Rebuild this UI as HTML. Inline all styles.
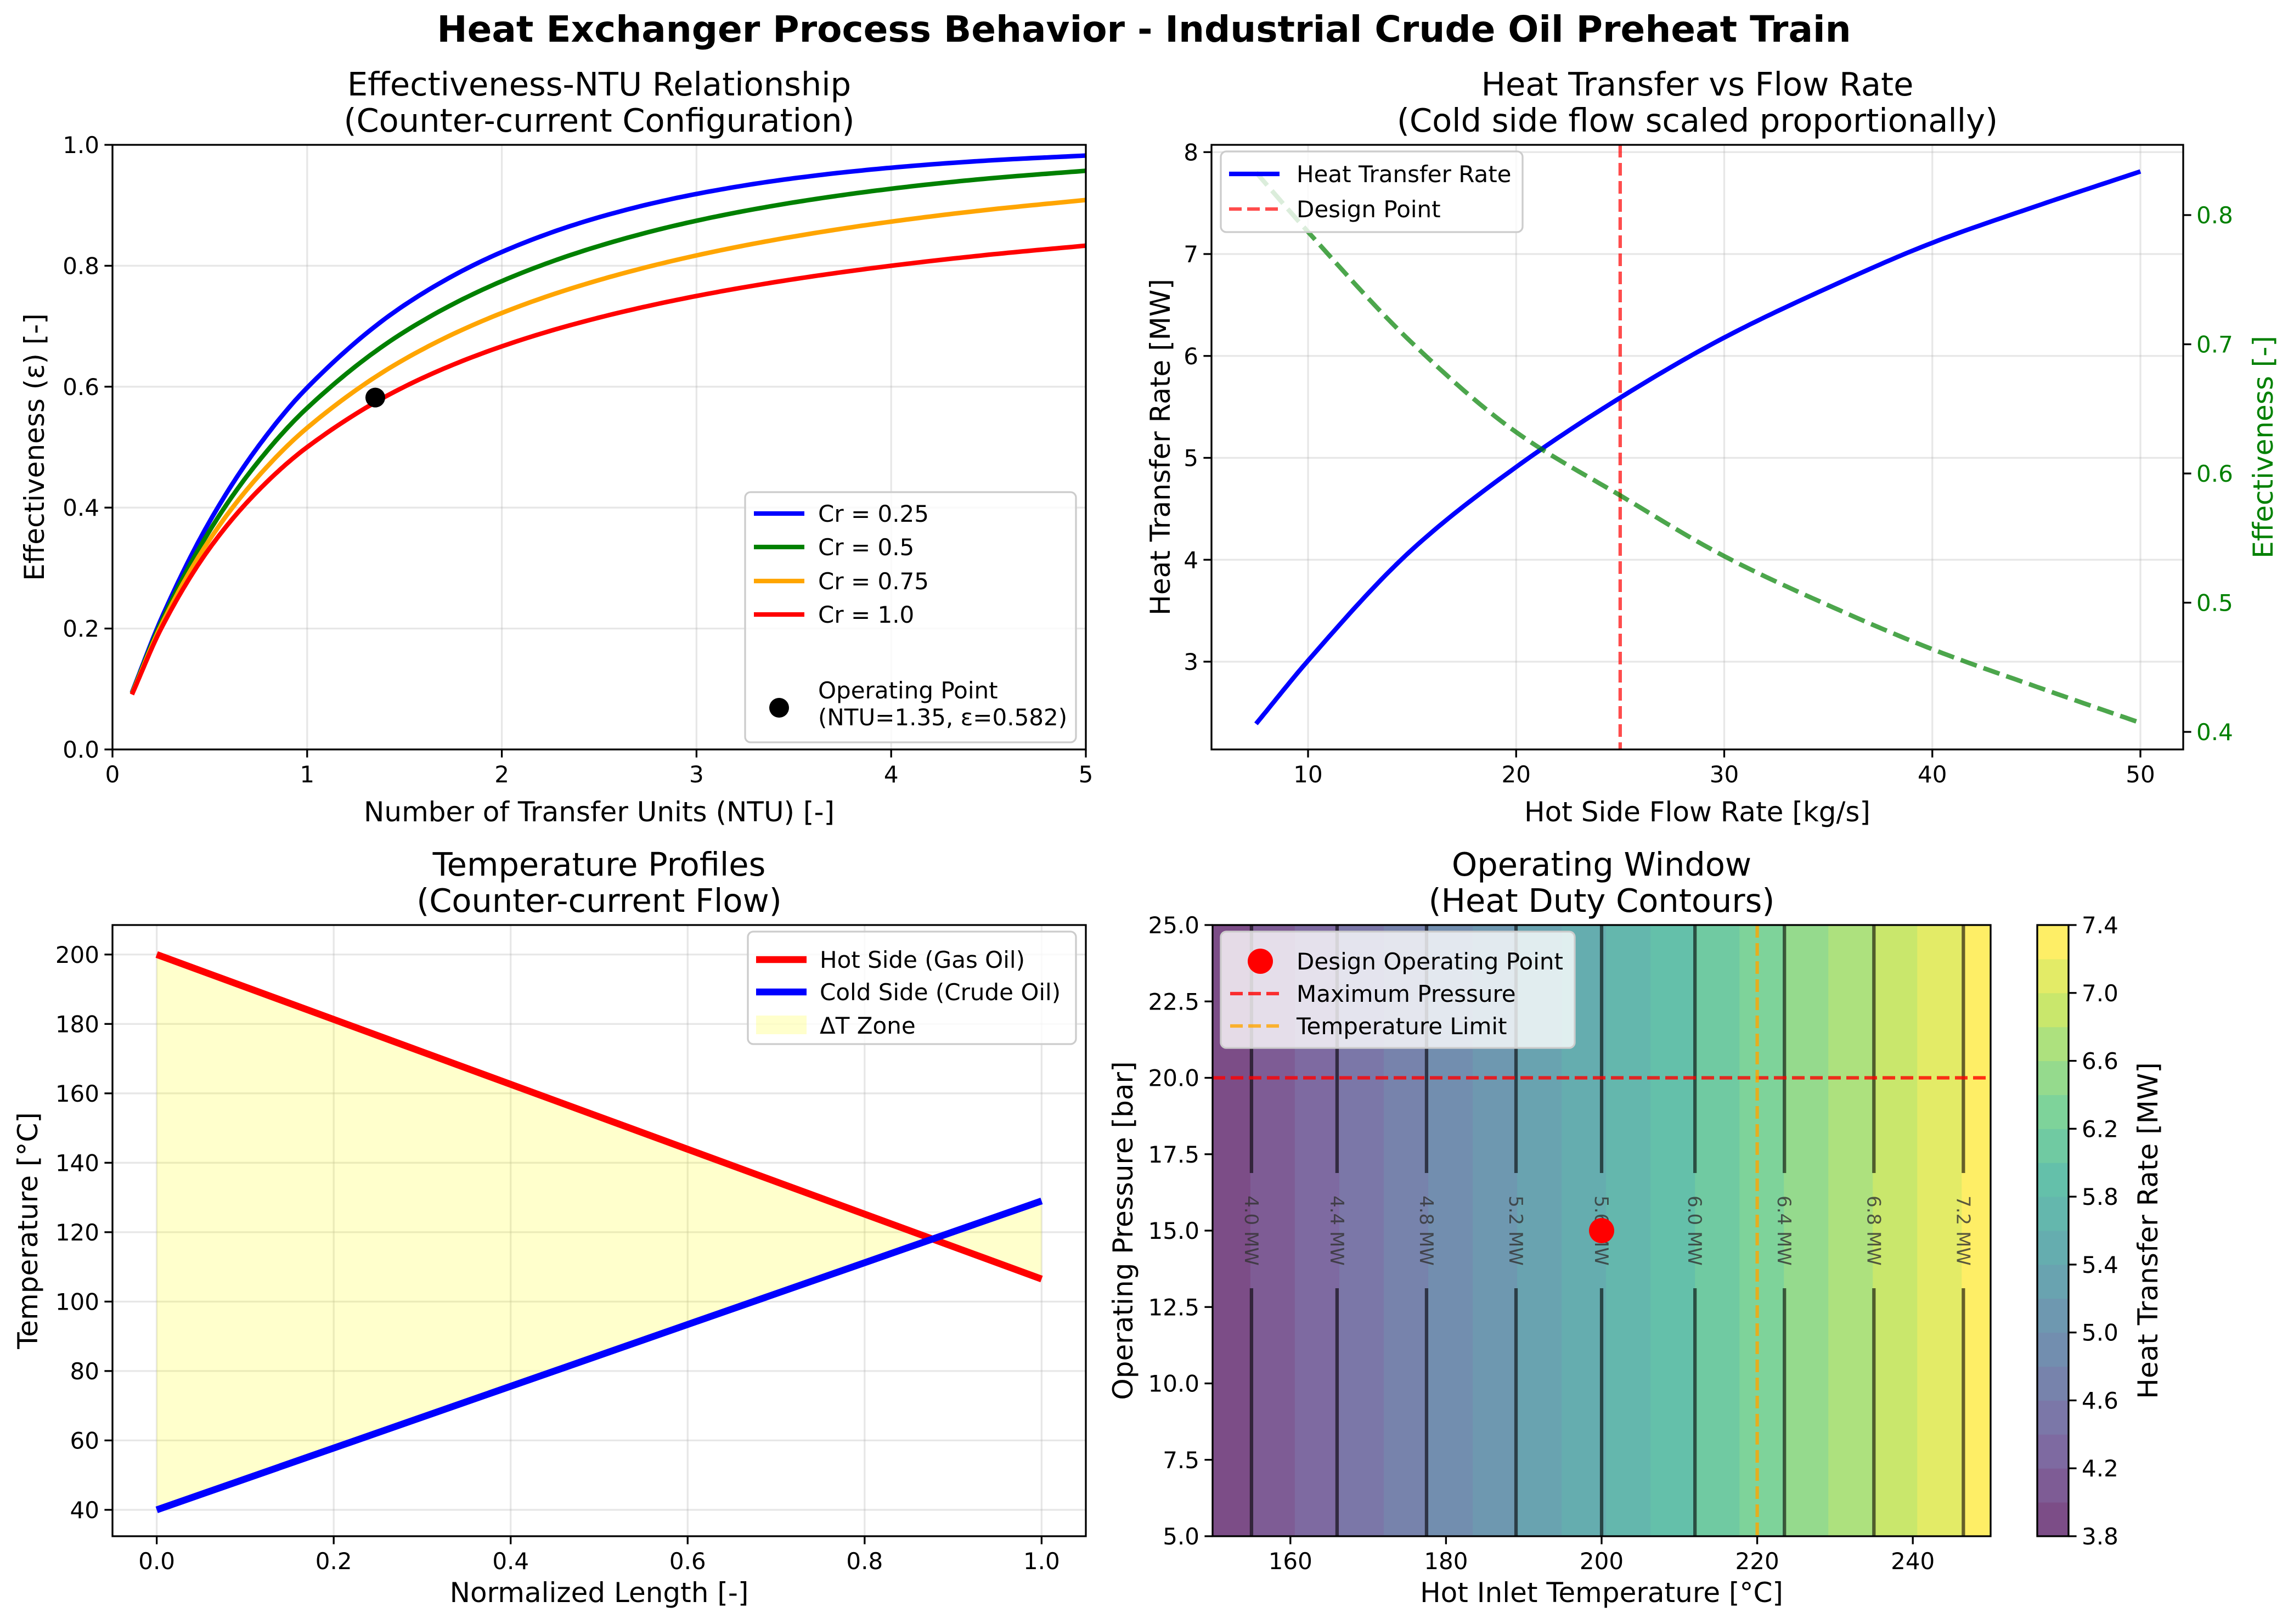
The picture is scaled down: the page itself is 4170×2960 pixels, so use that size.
<!DOCTYPE html>
<html><head><meta charset="utf-8"><style>
html,body{margin:0;padding:0;background:#fff}
svg text{font-family:"DejaVu Sans","Liberation Sans",sans-serif}
</style></head><body>
<svg id="fig" xmlns="http://www.w3.org/2000/svg" width="4170" height="2955" viewBox="0 0 4170 2955">
<rect width="4170" height="2955" fill="#fff"/>
<text x="2085" y="76" text-anchor="middle" font-size="66" font-weight="bold">Heat Exchanger Process Behavior - Industrial Crude Oil Preheat Train</text>
</svg>
<script>
// ---- Panel 1 data
const ntu = [0.1,0.25,0.5,0.75,1,1.5,2,2.5,3,3.5,4,4.5,5];
const eps025 = [0.0941,0.2157,0.3776,0.5017,0.5983,0.735,0.8228,0.8803,0.9188,0.9447,0.9622,0.9741,0.9823];
const eps05 = [0.0931,0.2103,0.3623,0.4764,0.5647,0.6908,0.7746,0.8328,0.8745,0.9048,0.9274,0.9444,0.9571];
const eps075 = [0.092,0.2051,0.3475,0.452,0.5319,0.6454,0.7219,0.7764,0.8171,0.8484,0.873,0.8927,0.9088];
const eps10 = [0.0909,0.2,0.3333,0.4286,0.5,0.6,0.6667,0.7143,0.75,0.7778,0.8,0.8182,0.8333];
const opPoint = [1.35,0.582];
const p1XTicks = [0,1,2,3,4,5];
const p1YTicks = [0,0.2,0.4,0.6,0.8,1.0];
// ---- Panel 2 data
const flow = [7.5,10,15,20,25,30,35,40,45,50];
const heatRate = [2.39,3.01,4.1,4.91,5.59,6.18,6.67,7.11,7.47,7.81];
const effFlow = [0.833,0.787,0.701,0.632,0.583,0.536,0.498,0.464,0.435,0.407];
const designFlow = 25;
const p2XTicks = [10,20,30,40,50];
const p2YTicks = [3,4,5,6,7,8];
const p2Y2Ticks = [0.4,0.5,0.6,0.7,0.8];
// ---- Panel 3 data
const lengthPos = [0,1];
const hotTemp = [200,106.5];
const coldTemp = [40,129];
const p3XTicks = [0,0.2,0.4,0.6,0.8,1.0];
const p3YTicks = [40,60,80,100,120,140,160,180,200];
// ---- Panel 4 data
const fillLevels = [3.8,4.0,4.2,4.4,4.6,4.8,5.0,5.2,5.4,5.6,5.8,6.0,6.2,6.4,6.6,6.8,7.0,7.2,7.4];
const dutyAt150 = 3.83, dutyAt250 = 7.33;
const contourLevels = [4.0,4.4,4.8,5.2,5.6,6.0,6.4,6.8,7.2];
const contourTemps = [155,166,177.5,189,200,212,223.5,235,246.5];
const designOp = [200,15];
const maxPressure = 20, tempLimit = 220;
const p4XTicks = [160,180,200,220,240];
const p4YTicks = [5,7.5,10,12.5,15,17.5,20,22.5,25];
const cbTicks = [3.8,4.2,4.6,5.0,5.4,5.8,6.2,6.6,7.0,7.4];

const NS='http://www.w3.org/2000/svg';
const svg=document.getElementById('fig');
const FT=42, FL=50, FTI=59, LW=8.3, SW=3.3, TL=14.6;
function el(tag,attrs,parent){const e=document.createElementNS(NS,tag);for(const k in attrs)e.setAttribute(k,attrs[k]);(parent||svg).appendChild(e);return e;}
function txt(x,y,s,size,attrs,parent){const t=el('text',Object.assign({x:x,y:y,'font-size':size},attrs||{}),parent);t.textContent=s;return t;}
function lin(d0,d1,r0,r1){return v=>r0+(v-d0)*(r1-r0)/(d1-d0);}
// monotone cubic (Fritsch-Carlson) in data space, sampled densely, then mapped
function smoothPath(xs,ys,sx,sy){
  const n=xs.length,d=[],m=new Array(n);
  for(let i=0;i<n-1;i++)d.push((ys[i+1]-ys[i])/(xs[i+1]-xs[i]));
  m[0]=d[0];m[n-1]=d[n-2];
  for(let i=1;i<n-1;i++){if(d[i-1]*d[i]<=0)m[i]=0;else{const h0=xs[i]-xs[i-1],h1=xs[i+1]-xs[i];const w1=2*h1+h0,w2=h1+2*h0;m[i]=(w1+w2)/(w1/d[i-1]+w2/d[i]);}}
  let p='M'+sx(xs[0]).toFixed(1)+','+sy(ys[0]).toFixed(1);
  for(let i=0;i<n-1;i++){const h=xs[i+1]-xs[i];
    for(let k=1;k<=20;k++){const t=k/20,t2=t*t,t3=t2*t;
      const y=(2*t3-3*t2+1)*ys[i]+(t3-2*t2+t)*h*m[i]+(-2*t3+3*t2)*ys[i+1]+(t3-t2)*h*m[i+1];
      p+=' L'+sx(xs[i]+t*h).toFixed(1)+','+sy(y).toFixed(1);}}
  return p;
}
function fmt(v,dec){return v.toFixed(dec);}

function axesGrid(g,x0,x1,y0,y1,xTicks,yTicks,sx,sy){
  xTicks.forEach(v=>{const l=el('line',{x1:sx(v),x2:sx(v),y1:y0,y2:y1,stroke:'#b0b0b0','stroke-opacity':0.3,'stroke-width':3.3},g);
    
    });
  yTicks.forEach(v=>{const l=el('line',{x1:x0,x2:x1,y1:sy(v),y2:sy(v),stroke:'#b0b0b0','stroke-opacity':0.3,'stroke-width':3.3},g);
    
    });
}
function axesTicks(g,x0,x1,y0,y1,xTicks,yTicks,sx,sy,xdec,ydec){
  xTicks.forEach(v=>{el('line',{x1:sx(v),x2:sx(v),y1:y1,y2:y1+TL,stroke:'#000','stroke-width':SW},g);
    const t=txt(sx(v),y1+60,fmt(v,xdec),FT,{'text-anchor':'middle'},g);
    
    });
  yTicks.forEach(v=>{el('line',{x1:x0-TL,x2:x0,y1:sy(v),y2:sy(v),stroke:'#000','stroke-width':SW},g);
    const t=txt(x0-24,sy(v)+15,fmt(v,ydec),FT,{'text-anchor':'end'},g);
    
    });
  const r=el('rect',{x:x0,y:y0,width:x1-x0,height:y1-y0,fill:'none',stroke:'#000','stroke-width':SW},g);
  
  
}
function title2(cx,y,a,b,name){const t=txt(cx,y,a,FTI,{'text-anchor':'middle'});
  const t2=txt(cx,y+66,b,FTI,{'text-anchor':'middle'});}
function legendBox(g,x,y,w,h){const r=el('rect',{x:x,y:y,width:w,height:h,rx:10,fill:'#fff','fill-opacity':0.8,stroke:'#cccccc','stroke-width':3.3},g);
  }

// ================= Panel 1
(function(){
  const x0=205,x1=1979,y0=264,y1=1366;
  const sx=lin(0,5,x0,x1), sy=lin(0,1,y1,y0);
  const g=el('g',{});
  
  
  axesGrid(g,x0,x1,y0,y1,p1XTicks,p1YTicks,sx,sy);
  const series=[[eps025,'#0000ff','curve-cr-0.25'],[eps05,'#008000','curve-cr-0.5'],[eps075,'#ffa500','curve-cr-0.75'],[eps10,'#ff0000','curve-cr-1.0']];
  series.forEach(s=>{const p=el('path',{d:smoothPath(ntu,s[0],sx,sy),fill:'none',stroke:s[1],'stroke-width':LW},g);
    
    });
  const c=el('circle',{cx:sx(opPoint[0]),cy:sy(opPoint[1]),r:18,fill:'#000'},g);
  
  
  axesTicks(g,x0,x1,y0,y1,p1XTicks,p1YTicks,sx,sy,0,1);
  title2((x0+x1)/2,174,'Effectiveness-NTU Relationship','(Counter-current Configuration)','panel1-title');
  const xl=txt((x0+x1)/2,1497,'Number of Transfer Units (NTU) [-]',FL,{'text-anchor':'middle'});
  
  const yl=txt(0,0,'Effectiveness (ε) [-]',FL,{'text-anchor':'middle',transform:'translate(80,'+(y0+y1)/2+') rotate(-90)'});
  
  const lg=el('g',{},g);
  legendBox(lg,1358,897,603,456);
  const ent=[['Cr = 0.25','#0000ff',936],['Cr = 0.5','#008000',997],['Cr = 0.75','#ffa500',1059],['Cr = 1.0','#ff0000',1120]];
  ent.forEach(e=>{el('line',{x1:1374,x2:1466,y1:e[2],y2:e[2],stroke:e[1],'stroke-width':LW},lg);
    const t=txt(1491,e[2]+15,e[0],FT,{},lg);});
  el('circle',{cx:1420,cy:1290,r:18,fill:'#000'},lg);
  const t1=txt(1491,1273,'Operating Point',FT,{},lg);
  const t2=txt(1491,1322,'(NTU=1.35, ε=0.582)',FT,{},lg);
})();

// ================= Panel 2
(function(){
  const x0=2208,x1=3979,y0=264,y1=1366;
  const sx=lin(10,50,2384,3901), sy=lin(3,7,1206,463), sy2=lin(0.4,0.8,1334,392);
  const g=el('g',{});
  
  
  axesGrid(g,x0,x1,y0,y1,p2XTicks,p2YTicks,sx,sy);
  const dl=el('line',{x1:sx(designFlow),x2:sx(designFlow),y1:y0,y2:y1,stroke:'#ff0000','stroke-opacity':0.7,'stroke-width':6.25,'stroke-dasharray':'23,10'},g);
  
  const hp=el('path',{d:smoothPath(flow,heatRate,sx,sy),fill:'none',stroke:'#0000ff','stroke-width':LW},g);
  
  const ep=el('path',{d:smoothPath(flow,effFlow,sx,sy2),fill:'none',stroke:'#008000','stroke-opacity':0.7,'stroke-width':LW,'stroke-dasharray':'31,13'},g);
  
  axesTicks(g,x0,x1,y0,y1,p2XTicks,p2YTicks,sx,sy,0,0);
  p2Y2Ticks.forEach(v=>{el('line',{x1:x1,x2:x1+TL,y1:sy2(v),y2:sy2(v),stroke:'#000','stroke-width':SW},g);
    const t=txt(x1+24,sy2(v)+15,fmt(v,1),FT,{fill:'#008000'},g);
    });
  title2((x0+x1)/2,174,'Heat Transfer vs Flow Rate','(Cold side flow scaled proportionally)','panel2-title');
  const xl=txt((x0+x1)/2,1497,'Hot Side Flow Rate [kg/s]',FL,{'text-anchor':'middle'});
  
  const yl=txt(0,0,'Heat Transfer Rate [MW]',FL,{'text-anchor':'middle',transform:'translate(2132,'+(y0+y1)/2+') rotate(-90)'});
  
  const yr=txt(0,0,'Effectiveness [-]',FL,{'text-anchor':'middle',fill:'#008000',transform:'translate(4142,'+(y0+y1)/2+') rotate(-90)'});
  
  const lg=el('g',{},g);
  legendBox(lg,2225,276,550,147);
  el('line',{x1:2240,x2:2332,y1:317,y2:317,stroke:'#0000ff','stroke-width':LW},lg);
  el('line',{x1:2240,x2:2332,y1:381,y2:381,stroke:'#ff0000','stroke-opacity':0.7,'stroke-width':6.25,'stroke-dasharray':'23,10'},lg);
  const a=txt(2363,332,'Heat Transfer Rate',FT,{},lg);
  const b=txt(2363,396,'Design Point',FT,{},lg);
})();

// ================= Panel 3
(function(){
  const x0=205,x1=1979,y0=1686,y1=2800;
  const sx=lin(-0.05,1.05,x0,x1), sy=lin(32.4,208.5,y1,y0);
  const g=el('g',{});
  
  
  axesGrid(g,x0,x1,y0,y1,p3XTicks,p3YTicks,sx,sy);
  const fp=el('polygon',{points:[[sx(lengthPos[0]),sy(hotTemp[0])],[sx(lengthPos[1]),sy(hotTemp[1])],[sx(lengthPos[1]),sy(coldTemp[1])],[sx(lengthPos[0]),sy(coldTemp[0])]].join(' '),fill:'#ffff00','fill-opacity':0.2},g);
  
  const h=el('line',{x1:sx(lengthPos[0]),y1:sy(hotTemp[0]),x2:sx(lengthPos[1]),y2:sy(hotTemp[1]),stroke:'#ff0000','stroke-width':12.5},g);
  
  const c=el('line',{x1:sx(lengthPos[0]),y1:sy(coldTemp[0]),x2:sx(lengthPos[1]),y2:sy(coldTemp[1]),stroke:'#0000ff','stroke-width':12.5},g);
  
  axesTicks(g,x0,x1,y0,y1,p3XTicks,p3YTicks,sx,sy,1,0);
  title2((x0+x1)/2,1596,'Temperature Profiles','(Counter-current Flow)','panel3-title');
  const xl=txt((x0+x1)/2,2920,'Normalized Length [-]',FL,{'text-anchor':'middle'});
  
  const yl=txt(0,0,'Temperature [°C]',FL,{'text-anchor':'middle',transform:'translate(68,'+(y0+y1)/2+') rotate(-90)'});
  
  const lg=el('g',{},g);
  legendBox(lg,1363,1698,598,205);
  el('line',{x1:1378,x2:1470,y1:1749,y2:1749,stroke:'#ff0000','stroke-width':12.5},lg);
  el('line',{x1:1378,x2:1470,y1:1808,y2:1808,stroke:'#0000ff','stroke-width':12.5},lg);
  el('rect',{x:1378,y:1851,width:92,height:34,fill:'#ffff00','fill-opacity':0.2},lg);
  [['Hot Side (Gas Oil)',1764],['Cold Side (Crude Oil)',1823],['ΔT Zone',1884]].forEach(e=>{const t=txt(1494,e[1],e[0],FT,{},lg);});
})();

// ================= Panel 4
(function(){
  const x0=2210,x1=3628,y0=1686,y1=2800;
  const sx=lin(150,250,x0,x1), sy=lin(5,25,y1,y0);
  const vir=[[68,1,84],[72,36,117],[65,68,135],[53,95,141],[42,120,142],[33,145,140],[34,168,132],[68,191,112],[122,209,81],[189,223,38],[253,231,37]];
  function viridis(t){const f=t*10,i=Math.min(Math.floor(f),9),r=f-i;const a=vir[i],b=vir[i+1];return a.map((v,k)=>v+(b[k]-v)*r);}
  function blend(c){return 'rgb('+c.map(v=>Math.round(v*0.7+255*0.3)).join(',')+')';}
  const tOfQ=q=>150+(q-dutyAt150)*(250-150)/(dutyAt250-dutyAt150);
  const g=el('g',{});
  
  
  const nb=fillLevels.length-1;
  for(let i=0;i<nb;i++){
    const ta=Math.max(150,tOfQ(fillLevels[i])),tb=Math.min(250,tOfQ(fillLevels[i+1]));
    if(tb<=ta) continue;
    const r=el('rect',{x:sx(ta),y:y0,width:sx(tb)-sx(ta)+0.5,height:y1-y0,fill:blend(viridis(i/(nb-1)))},g);
    
    
  }
  contourLevels.forEach((q,i)=>{const x=sx(contourTemps[i]);
    el('line',{x1:x,x2:x,y1:y0,y2:sy(15)-105,stroke:'#000','stroke-opacity':0.6,'stroke-width':6.25},g);
    el('line',{x1:x,x2:x,y1:sy(15)+105,y2:y1,stroke:'#000','stroke-opacity':0.6,'stroke-width':6.25},g);
    const t=txt(0,0,fmt(q,1)+' MW',34,{'text-anchor':'middle',fill:'#333','fill-opacity':0.8,transform:'translate('+(x-12)+','+sy(15)+') rotate(90)'},g);
    
    });
  const mp=el('line',{x1:x0,x2:x1,y1:sy(maxPressure),y2:sy(maxPressure),stroke:'#ff0000','stroke-opacity':0.8,'stroke-width':6.25,'stroke-dasharray':'23,10'},g);
  
  const tl=el('line',{x1:sx(tempLimit),x2:sx(tempLimit),y1:y0,y2:y1,stroke:'#ffa500','stroke-opacity':0.8,'stroke-width':6.25,'stroke-dasharray':'23,10'},g);
  
  const dp=el('circle',{cx:sx(designOp[0]),cy:sy(designOp[1]),r:23,fill:'#ff0000'},g);
  
  axesTicks(g,x0,x1,y0,y1,p4XTicks,p4YTicks,sx,sy,0,1);
  title2((x0+x1)/2,1596,'Operating Window','(Heat Duty Contours)','panel4-title');
  const xl=txt((x0+x1)/2,2920,'Hot Inlet Temperature [°C]',FL,{'text-anchor':'middle'});
  
  const yl=txt(0,0,'Operating Pressure [bar]',FL,{'text-anchor':'middle',transform:'translate(2064,'+(y0+y1)/2+') rotate(-90)'});
  
  const lg=el('g',{},g);
  legendBox(lg,2225,1698,645,212);
  el('circle',{cx:2297,cy:1752,r:23,fill:'#ff0000'},lg);
  el('line',{x1:2242,x2:2334,y1:1811,y2:1811,stroke:'#ff0000','stroke-opacity':0.8,'stroke-width':6.25,'stroke-dasharray':'23,10'},lg);
  el('line',{x1:2242,x2:2334,y1:1870,y2:1870,stroke:'#ffa500','stroke-opacity':0.8,'stroke-width':6.25,'stroke-dasharray':'23,10'},lg);
  [['Design Operating Point',1767],['Maximum Pressure',1826],['Temperature Limit',1885]].forEach(e=>{const t=txt(2363,e[1],e[0],FT,{},lg);});
  // colorbar
  const cx0=3713,cx1=3770;
  const cs=lin(3.8,7.4,y1,y0);
  const cb=el('g',{});
  for(let i=0;i<nb;i++){const r=el('rect',{x:cx0,y:cs(fillLevels[i+1]),width:cx1-cx0,height:cs(fillLevels[i])-cs(fillLevels[i+1])+0.5,fill:blend(viridis(i/(nb-1)))},cb);
    
    }
  el('rect',{x:cx0,y:y0,width:cx1-cx0,height:y1-y0,fill:'none',stroke:'#000','stroke-width':SW},cb);
  cbTicks.forEach(v=>{el('line',{x1:cx1,x2:cx1+TL,y1:cs(v),y2:cs(v),stroke:'#000','stroke-width':SW},cb);
    const t=txt(cx1+24,cs(v)+15,fmt(v,1),FT,{},cb);
    });
  const cl=txt(0,0,'Heat Transfer Rate [MW]',FL,{'text-anchor':'middle',transform:'translate(3932,'+(y0+y1)/2+') rotate(-90)'},cb);
  
})();
</script>
</body></html>
